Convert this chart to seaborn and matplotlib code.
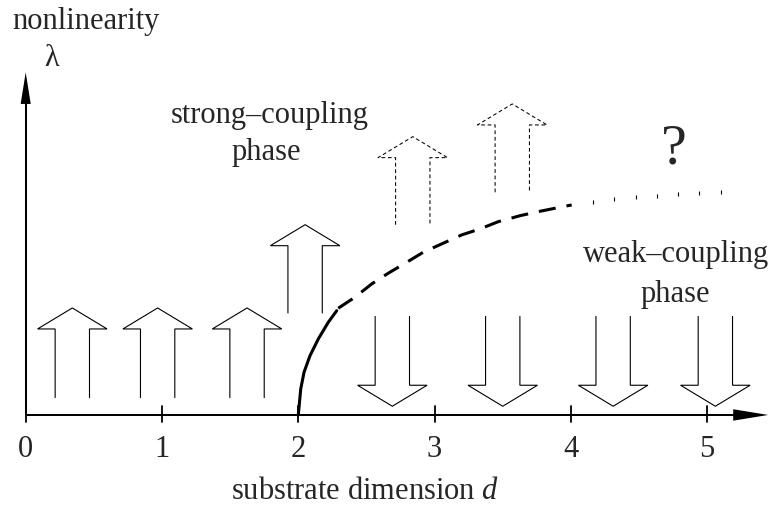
import matplotlib
matplotlib.use("Agg")
import matplotlib.pyplot as plt
import seaborn as sns

sns.set_theme(style="white")
plt.rcParams["font.family"] = ["Liberation Serif", "DejaVu Serif"]
plt.rcParams["mathtext.fontset"] = "custom"
plt.rcParams["mathtext.it"] = "Liberation Serif:italic"
plt.rcParams["mathtext.rm"] = "Liberation Serif"

# axis ticks on the dimension axis
tick_values = [0, 1, 2, 3, 4, 5]
tick_labels = ["0", "1", "2", "3", "4", "5"]

# phase boundary: solid part near d = 2
solid_d = [2.000, 2.018, 2.042, 2.086, 2.147, 2.220, 2.282]
solid_lam = [0.000, 0.191, 0.313, 0.435, 0.558, 0.680, 0.765]
# dashed continuation
dashed_d = [2.293, 2.416, 2.538, 2.660, 2.795, 2.917, 3.052, 3.199, 3.333,
            3.467, 3.627, 3.761, 3.920, 4.006]
dashed_lam = [0.783, 0.864, 0.961, 1.040, 1.120, 1.194, 1.255, 1.321, 1.365,
              1.418, 1.462, 1.492, 1.524, 1.541]
# uncertain continuation (dotted)
dotted_d = [4.164, 4.318, 4.475, 4.629, 4.788, 4.942, 5.101]
dotted_lam = [1.561, 1.585, 1.602, 1.609, 1.622, 1.627, 1.634]

# flow arrows: centre, tail and tip heights
up_solid_x = [0.342, 0.968, 1.624, 2.050]
up_solid_tail = [0.127, 0.127, 0.127, 0.748]
up_solid_tip = [0.785, 0.785, 0.785, 1.396]

up_dashed_x = [2.84, 3.57]
up_dashed_tail = [1.396, 1.634]
up_dashed_tip = [2.042, 2.282]

down_x = [2.69, 3.50, 4.31, 5.06]
down_tail = [0.723, 0.723, 0.723, 0.723]
down_tip = [0.064, 0.064, 0.064, 0.064]

SHAFT = 0.126
HEAD = 0.255
HEAD_LEN = 0.154
FS = 22

fig = plt.figure(figsize=(7.73, 5.10), dpi=100)
ax = fig.add_axes([0, 0, 1, 1])
ax.set_xlim(-0.1886, 5.483)
ax.set_ylim(-0.690, 3.052)
ax.axis("off")


def open_arrow(x, tail, tip, **kw):
    s = 1 if tip > tail else -1
    hb = tip - s * HEAD_LEN
    xs = [x - SHAFT, x - SHAFT, x - HEAD, x, x + HEAD, x + SHAFT, x + SHAFT]
    ys = [tail, hb, hb, tip, hb, hb, tail]
    ax.plot(xs, ys, **kw)


for x, t, p in zip(up_solid_x, up_solid_tail, up_solid_tip):
    open_arrow(x, t, p, color="black", lw=0.8, solid_joinstyle="miter")
for x, t, p in zip(up_dashed_x, up_dashed_tail, up_dashed_tip):
    open_arrow(x, t, p, color="black", lw=0.75, linestyle=(0, (3.6, 2.6)))
for x, t, p in zip(down_x, down_tail, down_tip):
    open_arrow(x, t, p, color="black", lw=0.8, solid_joinstyle="miter")

# coordinate axes with arrowheads
ax.plot([0, 5.20], [0, 0], color="black", lw=1.45, solid_capstyle="butt")
ax.fill([5.191, 5.448, 5.191], [-0.042, 0, 0.042], color="black", lw=0)
ax.plot([0, 0], [0, 2.30], color="black", lw=1.45, solid_capstyle="butt")
ax.fill([-0.037, 0, 0.037], [2.282, 2.514, 2.282], color="black", lw=0)
for v, lab in zip(tick_values, tick_labels):
    ax.plot([v, v], [-0.055, 0.064], color="black", lw=1.3)
    ax.text(v, -0.299, lab, ha="center", va="baseline", fontsize=FS)

# phase boundary
sns.lineplot(x=solid_d, y=solid_lam, ax=ax, color="black", lw=2.2,
             sort=False, estimator=None)
sns.lineplot(x=dashed_d, y=dashed_lam, ax=ax, color="black", lw=2.2,
             sort=False, estimator=None, linestyle=(0, (5.6, 3.6)))
sns.scatterplot(x=dotted_d, y=dotted_lam, ax=ax, color="black", marker="|",
                s=12, linewidth=0.8)

# labels
ax.text(0.445, 2.837, "nonlinearity", ha="center", va="baseline", fontsize=FS)
ax.text(0.191, 2.570, "λ", ha="center", va="baseline", fontsize=FS)
ax.text(1.790, 2.147, "strong–coupling", ha="center", va="baseline", fontsize=FS)
ax.text(1.765, 1.878, "phase", ha="center", va="baseline", fontsize=FS)
ax.text(4.771, 1.132, "weak–coupling", ha="center", va="baseline", fontsize=FS)
ax.text(4.764, 0.839, "phase", ha="center", va="baseline", fontsize=FS)
ax.text(4.756, 1.849, "?", ha="center", va="baseline", fontsize=42)
ax.text(2.487, -0.612, r"substrate dimension $d$", ha="center", va="baseline",
        fontsize=FS)

fig.savefig("out.png", dpi=100)
